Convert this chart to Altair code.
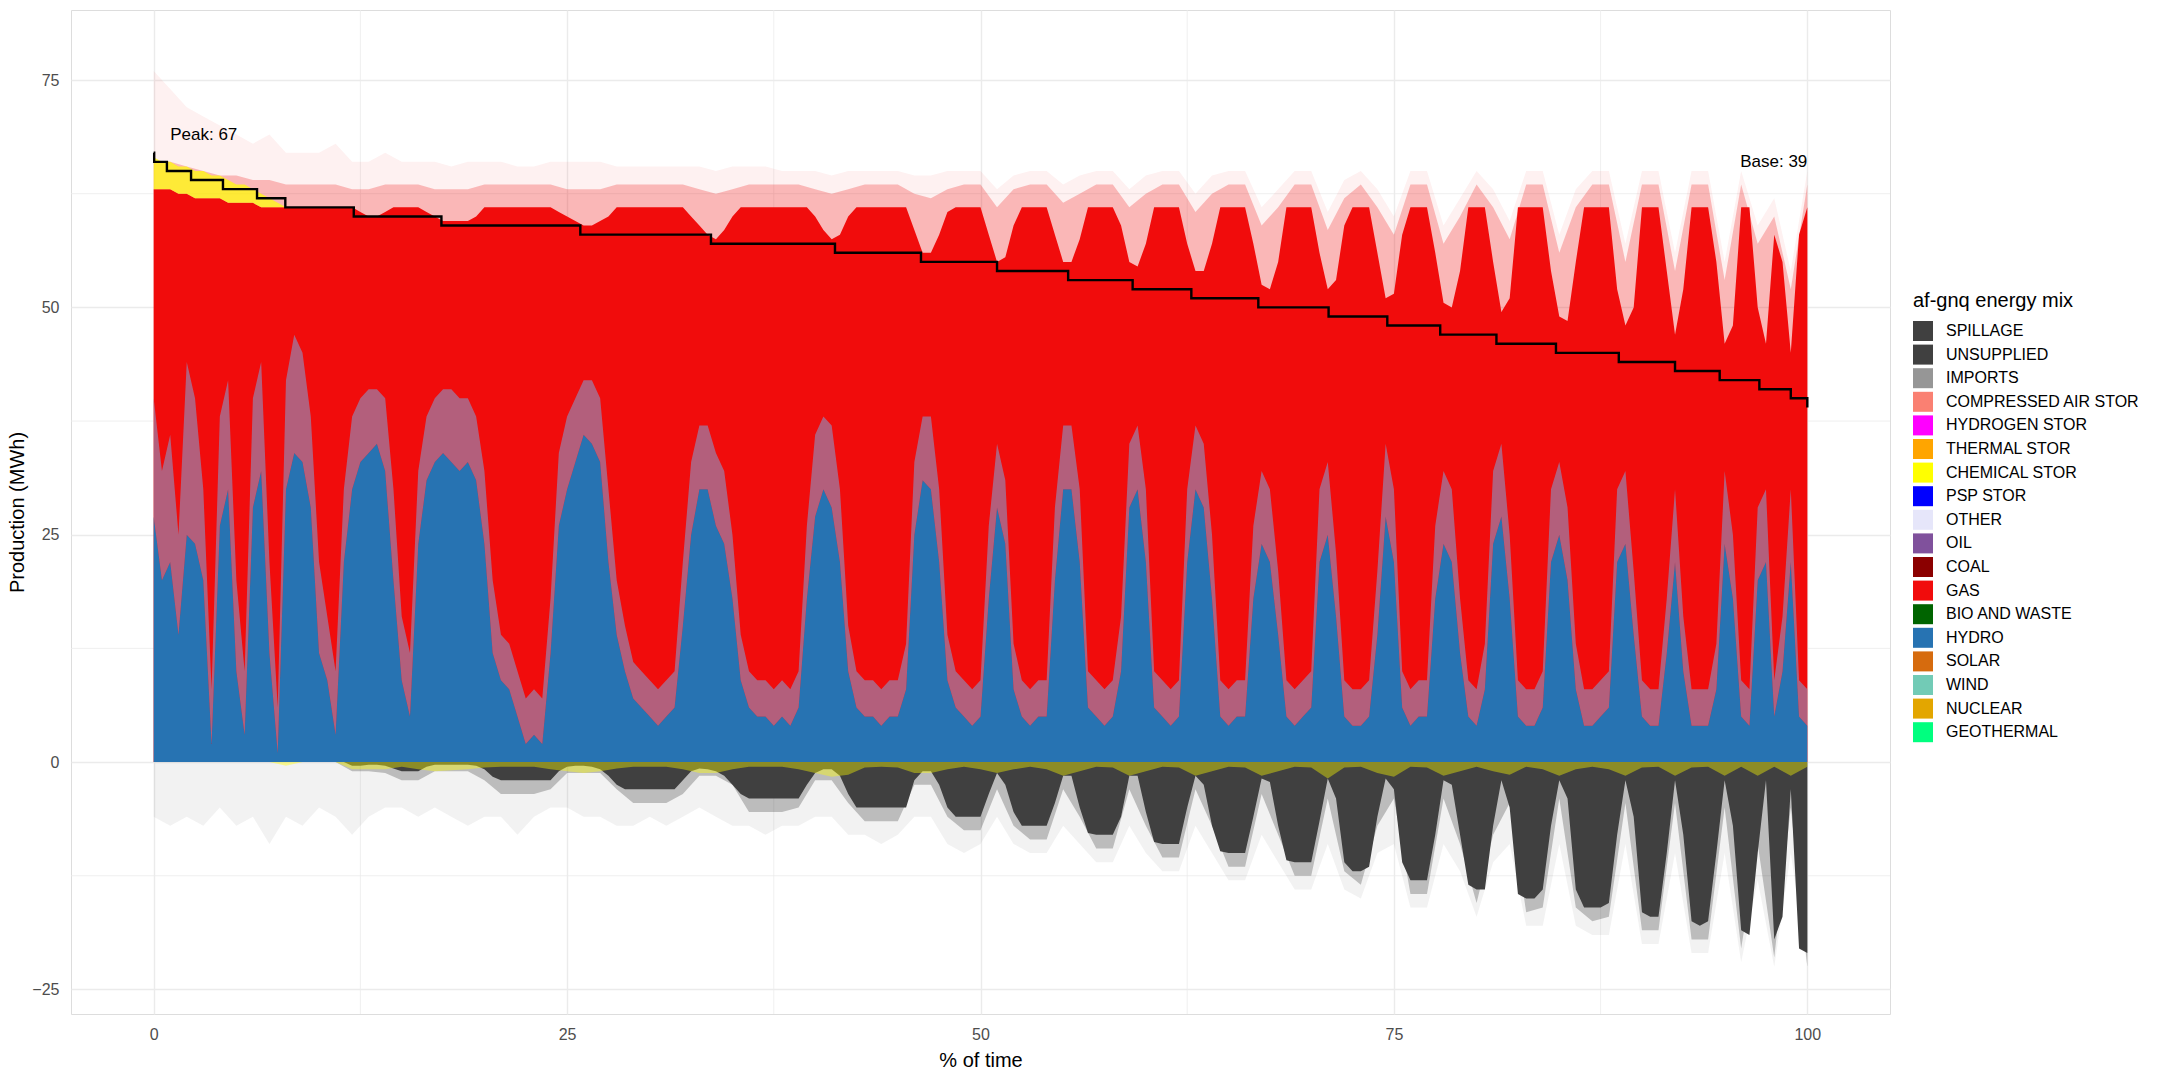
import altair as alt
import pandas as pd

FONT = "Liberation Sans"

# ---------------- categories / colours ----------------
SOURCES = ["SPILLAGE", "UNSUPPLIED", "IMPORTS", "COMPRESSED AIR STOR", "HYDROGEN STOR",
           "THERMAL STOR", "CHEMICAL STOR", "PSP STOR", "OTHER", "OIL", "COAL", "GAS",
           "BIO AND WASTE", "HYDRO", "SOLAR", "WIND", "NUCLEAR", "GEOTHERMAL"]
COLORS = ["#404040", "#404040", "#969696", "#fa8072", "#ff00ff", "#ffa500", "#ffff00",
          "#0000ff", "#e6e6fa", "#80519c", "#8b0000", "#f10c0c", "#006400", "#2773b2",
          "#d66b0e", "#72cbb6", "#e3a600", "#00ff7f"]

# ---------------- load duration (step line) ----------------
step_x = [0, 0.03, 0.8, 2.26, 4.19, 6.25, 7.96, 12.1, 17.4, 25.8, 33.7, 41.2, 46.4, 51.0,
          55.3, 59.2, 62.75, 66.8, 71.05, 74.6, 77.8, 81.2, 84.8, 88.6, 92.0, 94.7, 97.1,
          99.0, 100.0]
step_load = [67, 66, 65, 64, 63, 62, 61, 60, 59, 58, 57, 56, 55, 54, 53, 52, 51, 50, 49,
             48, 47, 46, 45, 44, 43, 42, 41, 40, 39]

# ---------------- series on a 0.5 % grid ----------------
pct = [i * 0.5 for i in range(201)]

hydro_top = [
    27, 20, 22, 14, 25, 24, 20, 2, 26, 30,
    10, 3, 28, 32, 12, 1, 30, 34, 33, 28,
    12, 9, 3, 22, 30, 33, 34, 35, 32, 20,
    9, 5, 24, 31, 33, 34, 33, 32, 33, 31,
    24, 12, 9, 8, 5, 2, 3, 2, 12, 26,
    30, 33, 36, 35, 33, 22, 14, 10, 7, 6,
    5, 4, 5, 6, 15, 25, 30, 30, 26, 24,
    18, 9, 6, 5, 5, 4, 5, 4, 6, 18,
    27, 30, 28, 22, 10, 6, 5, 5, 4, 5,
    5, 8, 25, 31, 30, 22, 9, 6, 5, 4,
    5, 18, 28, 24, 8, 5, 4, 5, 5, 20,
    30, 30, 22, 6, 5, 4, 5, 10, 28, 30,
    22, 6, 5, 4, 5, 22, 30, 28, 18, 5,
    4, 5, 5, 18, 24, 22, 14, 5, 4, 5,
    6, 22, 25, 16, 5, 4, 4, 5, 14, 27,
    22, 6, 4, 5, 5, 18, 24, 22, 12, 5,
    4, 8, 24, 27, 18, 5, 4, 4, 6, 22,
    25, 20, 8, 4, 4, 5, 6, 22, 24, 14,
    5, 4, 4, 12, 22, 10, 4, 4, 4, 8,
    24, 18, 5, 4, 20, 22, 5, 10, 22, 5,
    4]

hydro_streak = [
    40, 32, 36, 25, 44, 40, 30, 8, 38, 42,
    20, 10, 40, 44, 22, 6, 42, 47, 45, 38,
    22, 16, 10, 30, 38, 40, 41, 41, 40, 30,
    16, 12, 32, 38, 40, 41, 41, 40, 40, 38,
    32, 20, 14, 13, 10, 7, 8, 7, 18, 34,
    38, 40, 42, 42, 40, 30, 20, 15, 11, 10,
    9, 8, 9, 10, 22, 33, 37, 37, 34, 32,
    25, 14, 10, 9, 9, 8, 9, 8, 10, 26,
    36, 38, 37, 30, 15, 10, 9, 9, 8, 9,
    9, 13, 33, 38, 38, 30, 14, 10, 9, 8,
    9, 26, 35, 31, 13, 9, 8, 9, 9, 28,
    37, 37, 30, 10, 9, 8, 9, 16, 35, 37,
    30, 10, 9, 8, 9, 30, 37, 35, 25, 9,
    8, 9, 9, 26, 32, 30, 21, 9, 8, 9,
    10, 30, 33, 23, 9, 8, 8, 9, 21, 35,
    30, 10, 8, 9, 9, 26, 32, 30, 18, 9,
    8, 13, 32, 35, 25, 9, 8, 8, 10, 30,
    33, 28, 13, 8, 8, 9, 10, 30, 32, 21,
    9, 8, 8, 18, 30, 16, 8, 8, 8, 13,
    32, 25, 9, 8, 28, 30, 9, 16, 30, 9,
    8]

total_top = [
    63, 63, 63, 62.5, 62.5, 62, 62, 62, 62, 61.5,
    61.5, 61.5, 61.5, 61, 61, 61, 61, 61, 61, 61,
    61, 61, 61, 61, 61, 60.5, 60, 60, 60.5, 61,
    61, 61, 61, 60.5, 60, 59.5, 59.5, 59.5, 59.5, 60,
    61, 61, 61, 61, 61, 61, 61, 61, 61, 60.5,
    60, 59.5, 59, 59, 59.5, 60, 61, 61, 61, 61,
    61, 61, 61, 61, 61, 60, 59, 58, 57.5, 58.5,
    60, 61, 61, 61, 61, 61, 61, 61, 61, 61,
    60, 58.5, 57.5, 58, 60, 61, 61, 61, 61, 61,
    61, 61, 58.5, 56, 56, 58, 60.5, 61, 61, 61,
    61, 58, 55, 55.5, 59, 61, 61, 61, 61, 58,
    55, 55, 57.5, 61, 61, 61, 61, 59, 55, 54.5,
    57, 61, 61, 61, 61, 57, 54, 54, 57, 61,
    61, 61, 61, 57, 52.5, 52, 55, 61, 61, 61,
    61, 56, 52, 53, 59, 61, 61, 61, 56, 51,
    51.5, 58, 61, 61, 61, 56, 50.5, 50, 54, 61,
    61, 61, 55, 49.5, 51, 61, 61, 61, 61, 54,
    49, 48.5, 55, 61, 61, 61, 61, 52, 48, 50,
    61, 61, 61, 54, 47, 52, 61, 61, 61, 55,
    46, 48, 61, 61, 50, 46, 58, 55, 45, 58,
    61]

spill_bottom = [
    0, 0, 0, 0, 0, 0, 0, 0, 0, 0,
    0, 0, 0, 0, 0, 0, 0, 0, 0, 0,
    0, 0, 0, 0, -0.4, -0.4, -0.3, -0.3, -0.4, -0.7,
    -1, -1, -1, -0.5, -0.3, -0.3, -0.3, -0.3, -0.3, -0.4,
    -0.8, -1.6, -2, -2, -2, -2, -2, -2, -2, -1,
    -0.5, -0.4, -0.4, -0.5, -0.8, -1.5, -2.5, -3, -3, -3,
    -3, -3, -3, -3, -2, -1, -0.7, -0.8, -1, -1.5,
    -2.5, -3.5, -4, -4, -4, -4, -4, -4, -4, -2.5,
    -1.2, -0.8, -0.8, -1.5, -3.5, -5, -5, -5, -5, -5,
    -5, -5, -2, -1, -1, -2.5, -5, -6, -6, -6,
    -6, -3.5, -1.2, -2.5, -5.5, -7, -7, -7, -7, -4.5,
    -1.5, -1.5, -5, -7.8, -8, -8, -8, -6, -1.5, -1.5,
    -5.5, -8.8, -9, -9, -9, -5, -1.5, -2.5, -7, -9.8,
    -10, -10, -10, -6, -1.8, -2.2, -7, -10.8, -11, -11,
    -11, -6.5, -1.8, -4, -11, -12, -12, -11.5, -6, -1.8,
    -3, -11, -13, -13, -13, -8, -2, -2.5, -8, -13.5,
    -14, -14, -7, -2, -5, -14.5, -15, -15, -14, -7,
    -2, -4, -14, -16, -16, -16, -15.5, -8, -2, -6,
    -16.5, -17, -17, -10, -2, -8, -17.5, -18, -17.5, -10,
    -2, -7, -18.5, -19, -10, -2, -19.5, -17, -3, -20.5,
    -21]

# chemical storage discharge on top of the stack (first 8 % of time)
chem_top = [66.5, 66, 66, 65.5, 65.5, 65, 65, 64.5, 64.5, 64, 63.5, 63.5, 63, 62.5, 62, 61.5, 61]

# ---------------- envelopes on a 1 % grid ----------------
pct1 = list(range(101))

gas_fuzz = [
    66, 66, 65.5, 65, 64.5, 64.5, 64, 64, 63.5, 63.5,
    63.5, 63.5, 63, 63, 63.5, 63.5, 63.5, 63, 63, 63,
    63.5, 63.5, 63.5, 63.5, 63.5, 63, 63, 63, 63.5, 63.5,
    63.5, 63.5, 63.5, 63, 62.5, 63, 63.5, 63.5, 63.5, 63.5,
    63, 62.5, 63, 63.5, 63.5, 63.5, 62.5, 62, 63, 63.5,
    63.5, 61, 63, 63.5, 63.5, 61.5, 62.5, 63.5, 63.5, 61,
    62.5, 63.5, 63.5, 60.5, 62.5, 63.5, 63.5, 59, 61, 63.5,
    63.5, 58.5, 62, 63.5, 61, 58, 63.5, 63.5, 57, 60,
    63.5, 61, 57.5, 63.5, 63.5, 56, 61, 63.5, 63.5, 55,
    63.5, 63.5, 54, 63.5, 63.5, 53, 63.5, 57, 60, 52,
    63.5]

gas_spikes = [
    76, 74, 72, 71, 70, 69, 68, 69, 67, 67,
    67, 68, 66, 66, 67, 66, 66, 66, 65.5, 66,
    66, 66, 65.5, 65.5, 66, 66, 66, 66, 65.5, 65.5,
    65.5, 65.5, 65.5, 65.5, 65, 65.5, 65.5, 65.5, 65, 65,
    65, 64.5, 65, 65, 65, 65, 64.5, 64.5, 65, 65,
    65, 63, 64.5, 65, 65, 63.5, 64.5, 65, 65, 63,
    64.5, 65, 65, 62.5, 64.5, 65, 65, 61, 63, 65,
    65, 60.5, 64, 65, 63, 60, 65, 65, 59, 62,
    65, 63, 59.5, 65, 65, 58, 63, 65, 65, 57,
    65, 65, 56, 65, 65, 55, 65, 59, 62, 54,
    65]

spill_fuzz = [
    0, 0, 0, 0, 0, 0, 0, 0, 0, 0,
    0, 0, -1, -1, -1.2, -2, -2, -1, -1, -1,
    -2, -3.5, -3.5, -3.5, -3, -1.2, -1.2, -1.2, -3, -4.5,
    -4.5, -4.5, -3.5, -1.5, -1.5, -2.5, -5.5, -5.5, -5.5, -5,
    -2, -2, -4.5, -6.5, -6.5, -6.5, -2.5, -2.5, -6, -7.5,
    -7.5, -3, -7, -8.5, -8.5, -3, -6, -9.5, -9.5, -3,
    -7, -10.5, -10.5, -3, -7, -11.5, -11.5, -3.5, -8, -12.5,
    -12.5, -4, -12, -13.5, -7, -4, -14.5, -14.5, -4, -9,
    -15.5, -8, -4.5, -16.5, -16, -4, -16, -17.5, -17, -4.5,
    -18.5, -18.5, -4.5, -19.5, -19.5, -5, -20.5, -9, -21.5, -5,
    -22.5]

spill_spikes = [
    -6, -7, -6, -7, -5, -7, -6, -9, -6, -7,
    -5, -6, -8, -6, -5, -5, -6, -5, -6, -7,
    -6, -6, -8, -6, -5, -5, -6, -6, -7, -7,
    -6, -7, -6, -5, -6, -7, -7, -8, -7, -7,
    -6, -6, -8, -8, -9, -8, -6, -6, -9, -10,
    -9, -6, -9, -10, -10, -7, -9, -11, -11, -7,
    -10, -12, -12, -7, -10, -13, -13, -8, -11, -14,
    -14, -9, -14, -15, -10, -9, -16, -16, -9, -12,
    -17, -11, -9, -18, -18, -9, -18, -19, -19, -9,
    -20, -20, -10, -21, -21, -10, -22, -13, -22.5, -10,
    -22.5]

chem_charge = [
    0, 0, 0, 0, 0, 0, 0, 0, -0.4, 0,
    0, 0, -0.8, -0.8, -0.8, -0.5, -0.8, -1.0, -0.9, -0.8,
    -0.6, -0.5, -0.5, -0.5, -0.8, -1.0, -1.2, -1.0, -0.7, -0.5,
    -0.5, -0.5, -0.8, -1.2, -1.2, -0.8, -0.5, -0.5, -0.5, -0.8,
    -1.2, -1.6, -1.4, -0.6, -0.5, -0.6, -1.2, -1.2, -0.8, -0.5,
    -0.8, -1.2, -0.8, -0.5, -0.8, -1.5, -1.0, -0.5, -0.6, -1.5,
    -1.0, -0.5, -0.6, -1.5, -1.0, -0.5, -0.6, -1.5, -1.0, -0.5,
    -0.6, -1.8, -0.6, -0.5, -1.2, -1.6, -0.5, -0.6, -1.5, -1.0,
    -0.5, -1.0, -1.4, -0.5, -0.8, -1.5, -0.8, -0.5, -0.8, -1.5,
    -0.6, -0.5, -1.5, -0.6, -0.5, -1.5, -0.5, -1.5, -0.5, -1.5,
    -0.5]

for name, arr, n in [("hydro_top", hydro_top, 201), ("hydro_streak", hydro_streak, 201),
                     ("total_top", total_top, 201), ("spill_bottom", spill_bottom, 201),
                     ("gas_fuzz", gas_fuzz, 101), ("gas_spikes", gas_spikes, 101),
                     ("spill_fuzz", spill_fuzz, 101), ("spill_spikes", spill_spikes, 101),
                     ("chem_charge", chem_charge, 101)]:
    assert len(arr) == n, (name, len(arr))

# ---------------- tables ----------------
df = pd.DataFrame({"pct": pct, "H": hydro_top, "Hs": hydro_streak, "T": total_top,
                   "S": spill_bottom, "base": 0.0})
df1 = pd.DataFrame({"pct": pct1, "Tf": gas_fuzz, "Tsp": gas_spikes, "Sf": spill_fuzz,
                    "Ssp": spill_spikes, "C": chem_charge, "base": 0.0})
gas_df = df.assign(source="GAS")
hydro_df = df.assign(source="HYDRO")
spill_df = df.assign(source="SPILLAGE")
chem_df = df.iloc[:len(chem_top)].assign(Cp=chem_top)
step_df = pd.DataFrame({"pct": step_x, "load": step_load})
peak, base = max(step_load), min(step_load)
ann_df = pd.DataFrame({"pct": [step_x[0] + 1, step_x[-1]],
                       "y": [peak + 2, peak - 1],
                       "label": [f"Peak: {peak}", f"Base: {base}"],
                       "align": ["left", "right"]})
minor_x = pd.DataFrame({"v": [12.5, 37.5, 62.5, 87.5]})
minor_y = pd.DataFrame({"v": [-12.5, 12.5, 37.5, 62.5]})

# ---------------- scales / axes ----------------
XS = alt.Scale(domain=[-5, 105], nice=False, zero=False)
YS = alt.Scale(domain=[-27.7, 82.7], nice=False, zero=False)
XA = alt.Axis(values=[0, 25, 50, 75, 100], title="% of time", grid=True,
              gridColor="#ebebeb", gridWidth=1.4, domain=False, ticks=False, tickSize=0,
              labelFont=FONT, labelFontSize=16, labelColor="#4d4d4d", labelPadding=12,
              titleFont=FONT, titleFontSize=20, titleFontWeight="normal",
              titleColor="#000000", titlePadding=8)
YA = alt.Axis(values=[-25, 0, 25, 50, 75], title="Production (MWh)", grid=True,
              gridColor="#ebebeb", gridWidth=1.4, domain=False, ticks=False, tickSize=0,
              labelFont=FONT, labelFontSize=16, labelColor="#4d4d4d", labelPadding=12,
              titleFont=FONT, titleFontSize=20, titleFontWeight="normal",
              titleColor="#000000", titlePadding=4)


def xe(f):
    return alt.X(f"{f}:Q", scale=XS, axis=XA)


def ye(f):
    return alt.Y(f"{f}:Q", scale=YS, axis=YA, stack=False)


CS = alt.Scale(domain=SOURCES, range=COLORS)
LEG = alt.Legend(title="af-gnq energy mix", orient="none", legendX=1842, legendY=281,
                 direction="vertical", symbolType="square", symbolSize=400,
                 symbolStrokeWidth=0, symbolOpacity=1, labelFont=FONT, labelFontSize=16,
                 labelColor="#000000", titleFont=FONT, titleFontSize=20,
                 titleFontWeight="normal", titleColor="#000000", rowPadding=3.6,
                 labelOffset=13, titlePadding=10, padding=0, symbolLimit=30,
                 labelLimit=400)


def colour(): return alt.Color("source:N", scale=CS, legend=LEG)


layers = []
layers.append(alt.Chart(minor_x).mark_rule(color="#ebebeb", strokeWidth=0.8).encode(x=xe("v")))
layers.append(alt.Chart(minor_y).mark_rule(color="#ebebeb", strokeWidth=0.8).encode(y=ye("v")))
# faint sparse spikes
layers.append(alt.Chart(df1).mark_area(color="#404040", opacity=0.07).encode(
    x=xe("pct"), y=ye("base"), y2="Ssp"))
layers.append(alt.Chart(df1).mark_area(color="#f10c0c", opacity=0.06).encode(
    x=xe("pct"), y=ye("base"), y2="Tsp"))
# dense fuzz
layers.append(alt.Chart(df1).mark_area(color="#404040", opacity=0.3).encode(
    x=xe("pct"), y=ye("base"), y2="Sf"))
layers.append(alt.Chart(df1).mark_area(color="#f10c0c", opacity=0.25).encode(
    x=xe("pct"), y=ye("base"), y2="Tf"))
# solid stacks
layers.append(alt.Chart(gas_df).mark_area().encode(
    x=xe("pct"), y=ye("base"), y2="T", color=colour()))
layers.append(alt.Chart(hydro_df).mark_area().encode(
    x=xe("pct"), y=ye("base"), y2="H", color=colour()))
layers.append(alt.Chart(df).mark_area(color="#8a98c8", opacity=0.6).encode(
    x=xe("pct"), y=ye("H"), y2="Hs"))
layers.append(alt.Chart(spill_df).mark_area().encode(
    x=xe("pct"), y=ye("base"), y2="S", color=colour()))
layers.append(alt.Chart(df1).mark_area(color="#ffff00", opacity=0.4).encode(
    x=xe("pct"), y=ye("base"), y2="C"))
layers.append(alt.Chart(chem_df).mark_area(color="#ffff00", opacity=0.7).encode(
    x=xe("pct"), y=ye("T"), y2="Cp"))
# load duration curve
layers.append(alt.Chart(step_df).mark_line(interpolate="step-after", color="black",
                                           strokeWidth=2.4).encode(x=xe("pct"), y=ye("load")))
# annotations
for al in ["left", "right"]:
    layers.append(alt.Chart(ann_df[ann_df["align"] == al]).mark_text(
        align=al, baseline="middle", font=FONT, fontSize=17, color="#000000").encode(
        x=xe("pct"), y=ye("y"), text="label:N"))

chart = alt.layer(*layers).properties(
    width=1819, height=1004,
    autosize=alt.AutoSizeParams(type="none"),
    padding={"left": 71, "top": 10, "right": 270, "bottom": 66},
).configure_view(stroke=None).configure(background="white")

chart.save("out.html", embed_options={"renderer": "svg", "actions": False})
